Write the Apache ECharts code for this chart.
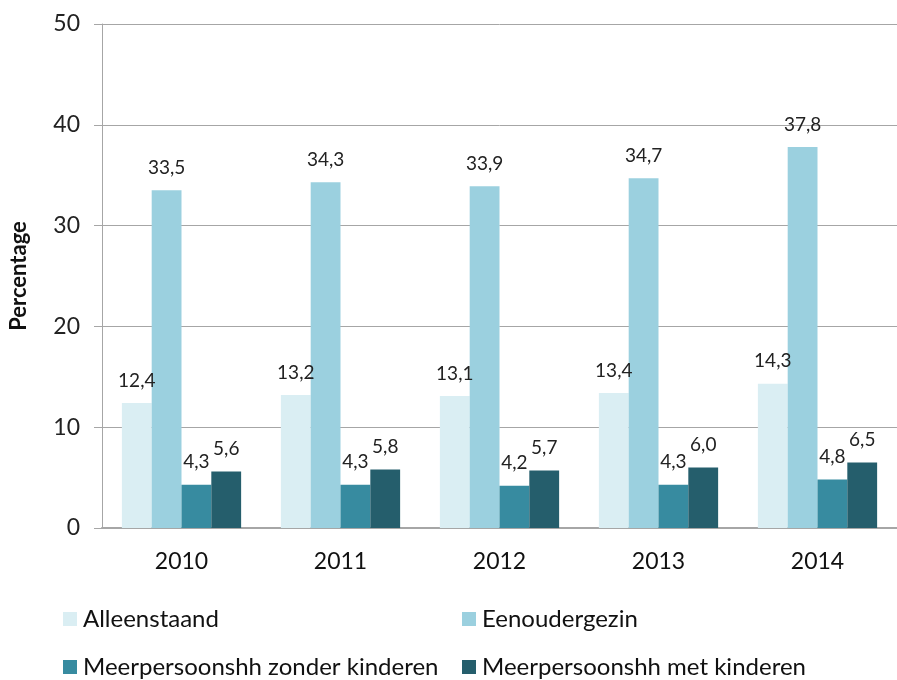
<!DOCTYPE html>
<html>
<head>
<meta charset="utf-8">
<script src="https://cdn.jsdelivr.net/npm/echarts@6/dist/echarts.min.js"></script>
<style>
  html, body { margin: 0; padding: 0; background: #fff; }
  #chart { width: 897px; height: 680px; }
</style>
</head>
<body>
<div id="chart"></div>
<script>
var years = ['2010', '2011', '2012', '2013', '2014'];
var alleenstaand = [12.4, 13.2, 13.1, 13.4, 14.3];
var eenoudergezin = [33.5, 34.3, 33.9, 34.7, 37.8];
var zonderKinderen = [4.3, 4.3, 4.2, 4.3, 4.8];
var metKinderen = [5.6, 5.8, 5.7, 6.0, 6.5];

var names = ['Alleenstaand', 'Eenoudergezin', 'Meerpersoonshh zonder kinderen', 'Meerpersoonshh met kinderen'];
var colors = ['#daeef3', '#9bd0df', '#378ba0', '#255e6c'];
var values = [alleenstaand, eenoudergezin, zonderKinderen, metKinderen];

var font = 'Lato, "Open Sans", sans-serif';

function makeSeries(i) {
    return {
        name: names[i],
        type: 'bar',
        data: values[i],
        barGap: '0%',
        barCategoryGap: '25%',
        itemStyle: { color: colors[i] },
        label: {
            show: true,
            position: 'top',
            distance: 13,
            fontFamily: font,
            fontSize: 19,
            color: '#222',
            formatter: function (p) { return p.value.toFixed(1).replace('.', ','); }
        }
    };
}

// one legend per item so they sit in two fixed columns
var legendPos = [[63, 607], [462, 607], [63, 655], [462, 655]];
var legends = legendPos.map(function (pos, i) {
    return {
        data: [names[i]],
        left: pos[0],
        top: pos[1],
        padding: 0,
        itemWidth: 14,
        itemHeight: 14,
        icon: 'rect',
        textStyle: { fontFamily: font, fontSize: 24, color: '#111', padding: [0, 0, 0, 1] }
    };
});

var chart = echarts.init(document.getElementById('chart'));
chart.setOption({
    animation: false,
    color: colors,
    legend: legends,
    // plot area runs a little past the right edge, as in the original
    grid: { left: 96, width: 808, top: 24, height: 504, containLabel: false },
    xAxis: {
        type: 'category',
        data: years,
        axisLine: { lineStyle: { color: '#a6a6a6', width: 2 } },
        axisTick: { show: false },
        axisLabel: { fontFamily: font, fontSize: 23, color: '#111', margin: 22 }
    },
    yAxis: {
        type: 'value',
        min: 0,
        max: 50,
        interval: 10,
        name: 'Percentage',
        nameLocation: 'middle',
        nameGap: 72,
        nameTextStyle: { fontFamily: font, fontSize: 22, fontWeight: 'bold', color: '#111' },
        axisLine: { show: true, lineStyle: { color: '#a6a6a6' } },
        axisTick: { show: true, length: 8, lineStyle: { color: '#a6a6a6' } },
        axisLabel: { fontFamily: font, fontSize: 23, color: '#222', margin: 22 },
        splitLine: { lineStyle: { color: '#a6a6a6' } }
    },
    series: [makeSeries(0), makeSeries(1), makeSeries(2), makeSeries(3)]
});
</script>
</body>
</html>
